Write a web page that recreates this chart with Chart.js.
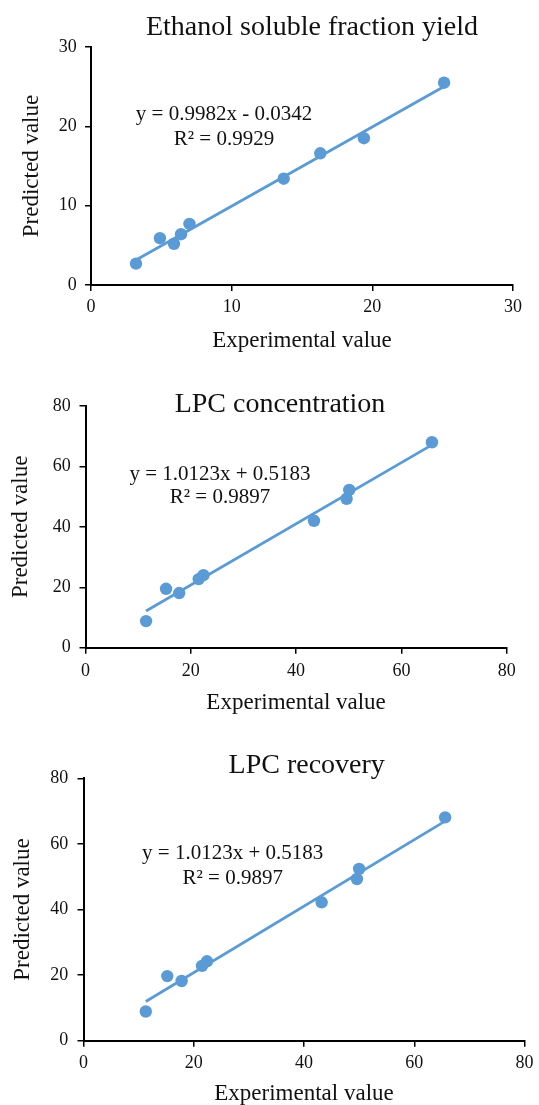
<!DOCTYPE html>
<html>
<head>
<meta charset="utf-8">
<title>Predicted vs experimental</title>
<script src="https://cdn.jsdelivr.net/npm/chart.js@4.4.1/dist/chart.umd.min.js"></script>
<style>
  html, body { margin: 0; padding: 0; background: #fff; overflow: hidden; }
  canvas { position: absolute; left: 0; }
</style>
</head>
<body>
<canvas id="c1" width="539" height="365" style="top:0px"></canvas>
<canvas id="c2" width="539" height="360" style="top:370px"></canvas>
<canvas id="c3" width="539" height="375" style="top:735px"></canvas>
<script>
// ---- values ----
const ethanolExp    = [3.2, 4.9, 5.9, 6.4, 7.0, 13.7, 16.3, 19.4, 25.1];
const ethanolPred   = [2.7, 5.9, 5.2, 6.4, 7.7, 13.4, 16.6, 18.5, 25.5];
const ethanolTrendX = [3.2, 25.1];
const ethanolTrendY = [3.16, 25.02];
const ethanolTicks  = [0, 10, 20, 30];

const concExp    = [11.5, 15.3, 17.8, 21.5, 22.4, 43.4, 49.6, 50.1, 65.8];
const concPred   = [8.8, 19.5, 18.1, 22.7, 24.0, 42.0, 49.3, 52.2, 68.0];
const concTrendX = [11.5, 65.8];
const concTrendY = [12.16, 67.13];

const recovExp    = [11.3, 15.2, 17.8, 21.5, 22.4, 43.2, 49.6, 50.0, 65.6];
const recovPred   = [8.9, 19.7, 18.2, 22.8, 24.2, 42.2, 49.3, 52.4, 68.1];
const recovTrendX = [11.3, 65.6];
const recovTrendY = [11.96, 66.93];
const lpcTicks    = [0, 20, 40, 60, 80];

const serif = "'Liberation Serif', 'Times New Roman', serif";
const blue = "#5B9BD5";
const ink = "#111";

// titles + trendline equations, drawn on top of each panel
const panelText = {
  id: "panelText",
  afterDraw(chart, args, opts) {
    const ctx = chart.ctx;
    ctx.save();
    ctx.fillStyle = ink;
    ctx.textAlign = "center";
    ctx.textBaseline = "middle";
    (opts.items || []).forEach(t => {
      ctx.font = t.size + "px " + serif;
      ctx.fillText(t.text, t.x, t.y);
    });
    ctx.restore();
  }
};

function pairs(xs, ys) {
  return xs.map((x, i) => ({ x, y: ys[i] }));
}

function axis(ticks, title, o) {
  return {
    type: "linear",
    min: ticks[0],
    max: ticks[ticks.length - 1],
    afterBuildTicks: s => { s.ticks = ticks.map(v => ({ value: v })); },
    afterFit: o.fit,
    grid: { drawOnChartArea: false, drawTicks: true, tickLength: 6, color: "#000", lineWidth: 1.5 },
    border: { display: true, color: "#000", width: 2 },
    ticks: { color: ink, padding: o.tickPad, font: { family: serif, size: 18 } },
    title: { display: true, text: title, color: ink, padding: o.titlePad, font: { family: serif, size: 23 } }
  };
}

// box: plot area in canvas pixels
function panel(id, box, ticks, exp, pred, tx, ty, text) {
  const cv = document.getElementById(id);
  return new Chart(cv, {
    type: "scatter",
    data: {
      datasets: [
        { data: pairs(exp, pred), backgroundColor: blue, borderWidth: 0, pointRadius: 6.2, pointHoverRadius: 6.2 },
        { data: pairs(tx, ty), showLine: true, borderColor: blue, borderWidth: 2.8, pointRadius: 0, fill: false }
      ]
    },
    options: {
      responsive: false,
      animation: false,
      events: [],
      layout: { padding: { left: 0, top: box.top, right: cv.width - box.right, bottom: 0 } },
      plugins: { legend: { display: false }, tooltip: { enabled: false }, panelText: { items: text } },
      scales: {
        x: axis(ticks, "Experimental value", {
          fit: s => { s.height = cv.height - box.bottom; },
          tickPad: box.xTickPad,
          titlePad: { top: 0, bottom: box.xTitlePad }
        }),
        y: axis(ticks, "Predicted value", {
          fit: s => { s.width = box.left; },
          tickPad: box.yTickPad,
          titlePad: { top: box.yTitlePad, bottom: 0 }
        })
      }
    },
    plugins: [panelText]
  });
}

panel("c1",
  { left: 91, right: 513, top: 47, bottom: 285, xTickPad: 5.7, xTitlePad: 10, yTickPad: 8.3, yTitlePad: 17.8 },
  ethanolTicks, ethanolExp, ethanolPred, ethanolTrendX, ethanolTrendY,
  [
    { text: "Ethanol soluble fraction yield", x: 312, y: 28, size: 28 },
    { text: "y = 0.9982x - 0.0342", x: 224, y: 114, size: 21 },
    { text: "R\u00B2 = 0.9929", x: 224, y: 139, size: 21 }
  ]);

panel("c2",
  { left: 85.5, right: 506.7, top: 36, bottom: 277.7, xTickPad: 6.5, xTitlePad: 13.5, yTickPad: 8.8, yTitlePad: 6.8 },
  lpcTicks, concExp, concPred, concTrendX, concTrendY,
  [
    { text: "LPC concentration", x: 280, y: 35, size: 28 },
    { text: "y = 1.0123x + 0.5183", x: 220, y: 104.5, size: 21 },
    { text: "R\u00B2 = 0.9897", x: 220, y: 127.5, size: 21 }
  ]);

panel("c3",
  { left: 83.5, right: 526.5, top: 43.3, bottom: 305.7, xTickPad: 5.5, xTitlePad: 2.2, yTickPad: 9.2, yTitlePad: 9.2 },
  lpcTicks, recovExp, recovPred, recovTrendX, recovTrendY,
  [
    { text: "LPC recovery", x: 306.7, y: 31, size: 28 },
    { text: "y = 1.0123x + 0.5183", x: 232.7, y: 118.3, size: 21 },
    { text: "R\u00B2 = 0.9897", x: 232.7, y: 143.8, size: 21 }
  ]);
</script>
</body>
</html>
